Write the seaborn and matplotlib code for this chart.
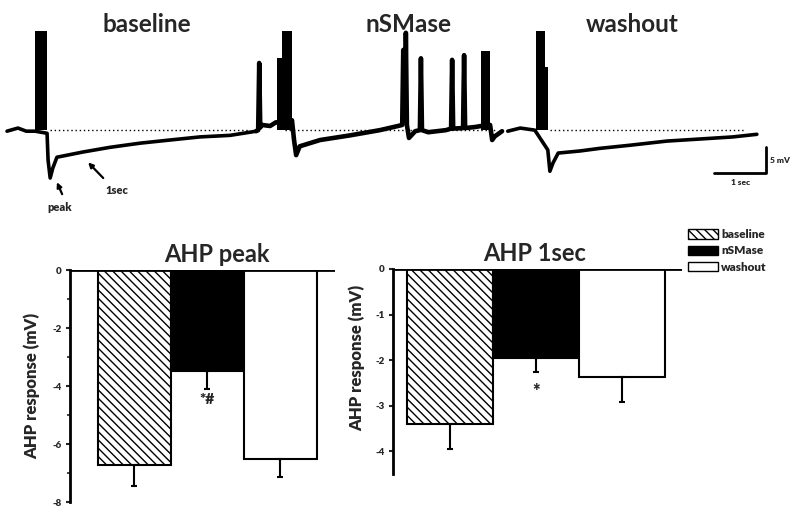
import numpy as np
import pandas as pd
import seaborn as sns
import matplotlib.pyplot as plt
from matplotlib.patches import Patch
from matplotlib.ticker import MultipleLocator

# Recorded traces (time in s, membrane potential in mV relative to rest)
base_t = [0.00, 0.21, 0.37, 0.54, 0.77, 0.79, 0.83, 0.88, 0.96, 1.46, 1.98, 2.56, 3.13, 3.71, 4.29, 4.67, 4.79]
base_v = [-0.2, 0.4, -0.2, -0.2, -0.6, -5.8, -9.2, -7.3, -5.2, -4.2, -3.3, -2.5, -1.9, -1.3, -1.0, -0.4, -0.2]

nsm_t = [4.79, 4.83, 4.85, 4.87, 4.90, 5.06, 5.17, 5.19, 5.48, 5.52, 5.56, 5.63, 6.02, 6.60, 7.17,
         7.52, 7.60, 7.62, 7.64, 7.66, 7.67, 7.69, 7.73, 7.85, 7.94, 7.96, 7.98, 8.10, 8.44, 8.54,
         8.56, 8.58, 8.77, 8.79, 8.81, 9.00, 9.12, 9.29, 9.33, 9.38, 9.52]
nsm_v = [-0.2, 0.0, 12.9, 0.5, 1.0, 0.8, 1.5, 1.5, 1.9, -1.9, -4.8, -3.1, -1.9, -1.0, 0.0,
         0.8, 1.0, 15.4, 2.0, 2.0, 18.7, 1.0, -1.5, -0.2, 0.0, 13.8, 0.0, -0.4, 0.0, 0.3,
         13.5, 0.3, 0.4, 14.4, 0.4, 0.6, 0.8, 1.0, -1.9, -1.2, -0.2]

wash_t = [9.63, 9.87, 10.15, 10.40, 10.44, 10.50, 10.60, 11.02, 11.40, 11.98, 12.69, 13.33, 13.96, 14.42]
wash_v = [-0.2, 0.4, 0.0, -3.8, -7.9, -6.3, -4.4, -4.0, -3.5, -2.9, -2.1, -1.7, -1.3, -0.8]

# spike bursts (start s, end s, clipped top mV)
burst_start = [0.54, 5.19, 5.29, 9.12, 10.17, 10.35]
burst_end = [0.77, 5.29, 5.48, 9.29, 10.35, 10.40]
burst_top = [19.0, 13.8, 19.0, 15.2, 19.0, 12.1]

# resting level reference lines
rest_start = [0.83, 5.35, 10.44]
rest_end = [4.63, 9.40, 14.20]

trace_titles = ['baseline', 'nSMase', 'washout']
title_t = [2.69, 7.73, 12.02]

# bar data
conditions = ['baseline', 'nSMase', 'washout']
peak_mean = [-6.72, -3.48, -6.50]
peak_sem = [0.73, 0.62, 0.64]
sec1_mean = [-3.41, -1.96, -2.37]
sec1_sem = [0.55, 0.30, 0.55]

sns.set_style('white')
plt.rcParams['font.family'] = ['Lato', 'DejaVu Sans']
plt.rcParams['hatch.linewidth'] = 1.0
plt.rcParams['hatch.color'] = '#444444'

fig = plt.figure(figsize=(8, 5.15), dpi=100)

# ---- traces ----
ax = fig.add_axes([0, 300 / 515, 1, 215 / 515])
ax.set_xlim(-0.135, 15.25)
ax.set_ylim(-16.3, 25)
ax.axis('off')

for s, e in zip(rest_start, rest_end):
    ax.plot([s, e], [0, 0], color='black', lw=1, ls=(0, (1, 2)))
for s, e, top in zip(burst_start, burst_end, burst_top):
    ax.fill_between([s, e], 0, top, color='black', lw=0)
ax.plot(base_t, base_v, color='black', lw=2.6, solid_joinstyle='round')
ax.plot(nsm_t, nsm_v, color='black', lw=3.3, solid_joinstyle='round')
ax.plot(wash_t, wash_v, color='black', lw=2.6, solid_joinstyle='round')

for name, t in zip(trace_titles, title_t):
    ax.text(t, 20.2, name, ha='center', va='center', fontsize=17.5, fontweight='bold')

arrow = dict(arrowstyle='-|>', color='black', lw=1.6, mutation_scale=7, shrinkA=0, shrinkB=0)
ax.annotate('', xy=(0.96, -10.0), xytext=(1.06, -12.3), arrowprops=arrow)
ax.text(1.02, -14.8, 'peak', ha='center', va='center', fontsize=8, fontweight='heavy')
ax.annotate('', xy=(1.56, -6.2), xytext=(1.85, -9.2), arrowprops=arrow)
ax.text(2.12, -11.5, '1sec', ha='center', va='center', fontsize=8, fontweight='heavy')

# scale bar: 1 s, 5 mV
sb_t, sb_v = 14.6, -8.3
ax.plot([sb_t - 1, sb_t, sb_t], [sb_v, sb_v, sb_v + 5], color='black', lw=2)
ax.text(sb_t + 0.07, sb_v + 2.5, '5 mV', ha='left', va='center', fontsize=6, fontweight='heavy')
ax.text(sb_t - 0.5, sb_v - 1.7, '1 sec', ha='center', va='center', fontsize=6, fontweight='heavy')

# ---- bar charts ----
palette = {'baseline': 'white', 'nSMase': 'black', 'washout': 'white'}


def bar_panel(ax, means, sems, title, title_x, xlim, ylim, ticks, minor, star, star_y, star_size,
              label_x, label_y):
    df = pd.DataFrame({'condition': conditions, 'value': means})
    sns.barplot(data=df, x='condition', y='value', hue='condition', palette=palette,
                width=1.0, edgecolor='black', linewidth=1.5, legend=False, ax=ax)
    ax.patches[0].set_hatch('\\\\\\\\')
    ax.errorbar(range(3), means, yerr=[sems, [0, 0, 0]], fmt='none', ecolor='black',
                elinewidth=1.5, capsize=2.5, capthick=1.5)
    ax.axhline(0, color='black', lw=2)
    ax.set_xlim(*xlim)
    ax.set_ylim(*ylim)
    for sp in ['top', 'right', 'bottom']:
        ax.spines[sp].set_visible(False)
    ax.spines['left'].set_linewidth(2)
    ax.spines['left'].set_color('black')
    ax.set_xticks([])
    ax.set_xlabel('')
    ax.set_ylabel('')
    ax.set_yticks(ticks)
    ax.set_yticklabels([f'{v:g}' for v in ticks], fontweight='heavy')
    if minor:
        ax.yaxis.set_minor_locator(MultipleLocator(minor))
    ax.tick_params(axis='y', which='major', direction='out', length=3, width=1.5, left=True,
                   labelsize=7, pad=3)
    ax.tick_params(axis='y', which='minor', direction='out', length=2, width=1.2, left=True)
    ax.text(label_x, label_y, 'AHP response (mV)', transform=ax.transAxes, rotation=90,
            ha='center', va='center', fontsize=12, fontweight='heavy')
    ax.set_title(title, fontsize=17, fontweight='bold', pad=6, x=title_x)
    ax.text(1, star_y, star, ha='center', va='center', fontsize=star_size, fontweight='heavy')


ax1 = fig.add_axes([70 / 800, 13 / 515, 265 / 800, 232 / 515])
bar_panel(ax1, peak_mean, peak_sem, 'AHP peak', 0.555, (-0.877, 2.753), (-8, 0),
          [0, -2, -4, -6, -8], 1, '*#', -4.45, 11, -0.143, 0.5)

ax2 = fig.add_axes([393 / 800, 41 / 515, 289 / 800, 205 / 515])
bar_panel(ax2, sec1_mean, sec1_sem, 'AHP 1sec', 0.49, (-0.669, 2.70), (-4.5, 0),
          [0, -1, -2, -3, -4], None, '*', -2.7, 13, -0.125, 0.566)

handles = [Patch(facecolor='white', edgecolor='black', hatch='\\\\\\\\', lw=1),
           Patch(facecolor='black', edgecolor='black', lw=1),
           Patch(facecolor='white', edgecolor='black', lw=1)]
leg = fig.legend(handles, conditions, loc='upper left', bbox_to_anchor=(688 / 800, 1 - 229 / 515),
                 frameon=False, fontsize=8.5, handlelength=2.5, handleheight=0.85,
                 labelspacing=0.45, handletextpad=0.3, borderpad=0, borderaxespad=0)
for t in leg.get_texts():
    t.set_fontweight('heavy')

fig.savefig('out.png', dpi=100)
